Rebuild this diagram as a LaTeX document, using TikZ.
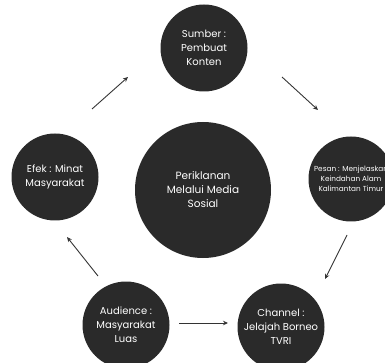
\documentclass[tikz,border=0pt]{standalone}
\usepackage{fontspec}
\setmainfont{Poppins}
\usetikzlibrary{arrows.meta}
\definecolor{bubblegray}{HTML}{2A2A2A}
\definecolor{arrowgray}{HTML}{333333}
\begin{document}
\begin{tikzpicture}[x=1pt,y=-1pt,
  bubble/.style={circle, fill=bubblegray, text=white, align=center, inner sep=0pt, minimum size=87pt, font=\fontsize{10}{14}\selectfont},
  arr/.style={-{Stealth[length=5pt,width=4.5pt]}, line width=0.9pt, draw=arrowgray}]
\useasboundingbox (0,0) rectangle (385,363);
\begin{scope}
\clip (0,0) rectangle (385,363);
\node[bubble] (sumber) at (204,48) {Sumber :\\Pembuat\\Konten};
\node[bubble, minimum size=85pt, font=\fontsize{7.3}{10}\selectfont] (pesan) at (351,179) {Pesan : Menjelaskan\\Keindahan Alam\\Kalimantan Timur};
\node[bubble, minimum size=136pt, font=\fontsize{10.5}{14}\selectfont] (pusat) at (203,190) {Periklanan\\Melalui Media\\Sosial};
\node[bubble] (efek) at (55,177) {Efek : Minat\\Masyarakat};
\node[bubble] (audience) at (126,325) {Audience :\\Masyarakat\\Luas};
\node[bubble] (channel) at (281,327) {Channel :\\Jelajah Borneo\\TVRI};
\end{scope}
\coordinate (e1) at (92,109);  \coordinate (e2) at (128,77);
\coordinate (s1) at (282,77);  \coordinate (s2) at (318,110);
\coordinate (p1) at (347,235); \coordinate (p2) at (325,279);
\coordinate (a1) at (179,323); \coordinate (a2) at (228,323);
\coordinate (b1) at (98,276);  \coordinate (b2) at (67,237);
\draw[arr] (e1) -- (e2);
\draw[arr] (s1) -- (s2);
\draw[arr] (p1) -- (p2);
\draw[arr] (a1) -- (a2);
\draw[arr] (b1) -- (b2);
\end{tikzpicture}
\end{document}
